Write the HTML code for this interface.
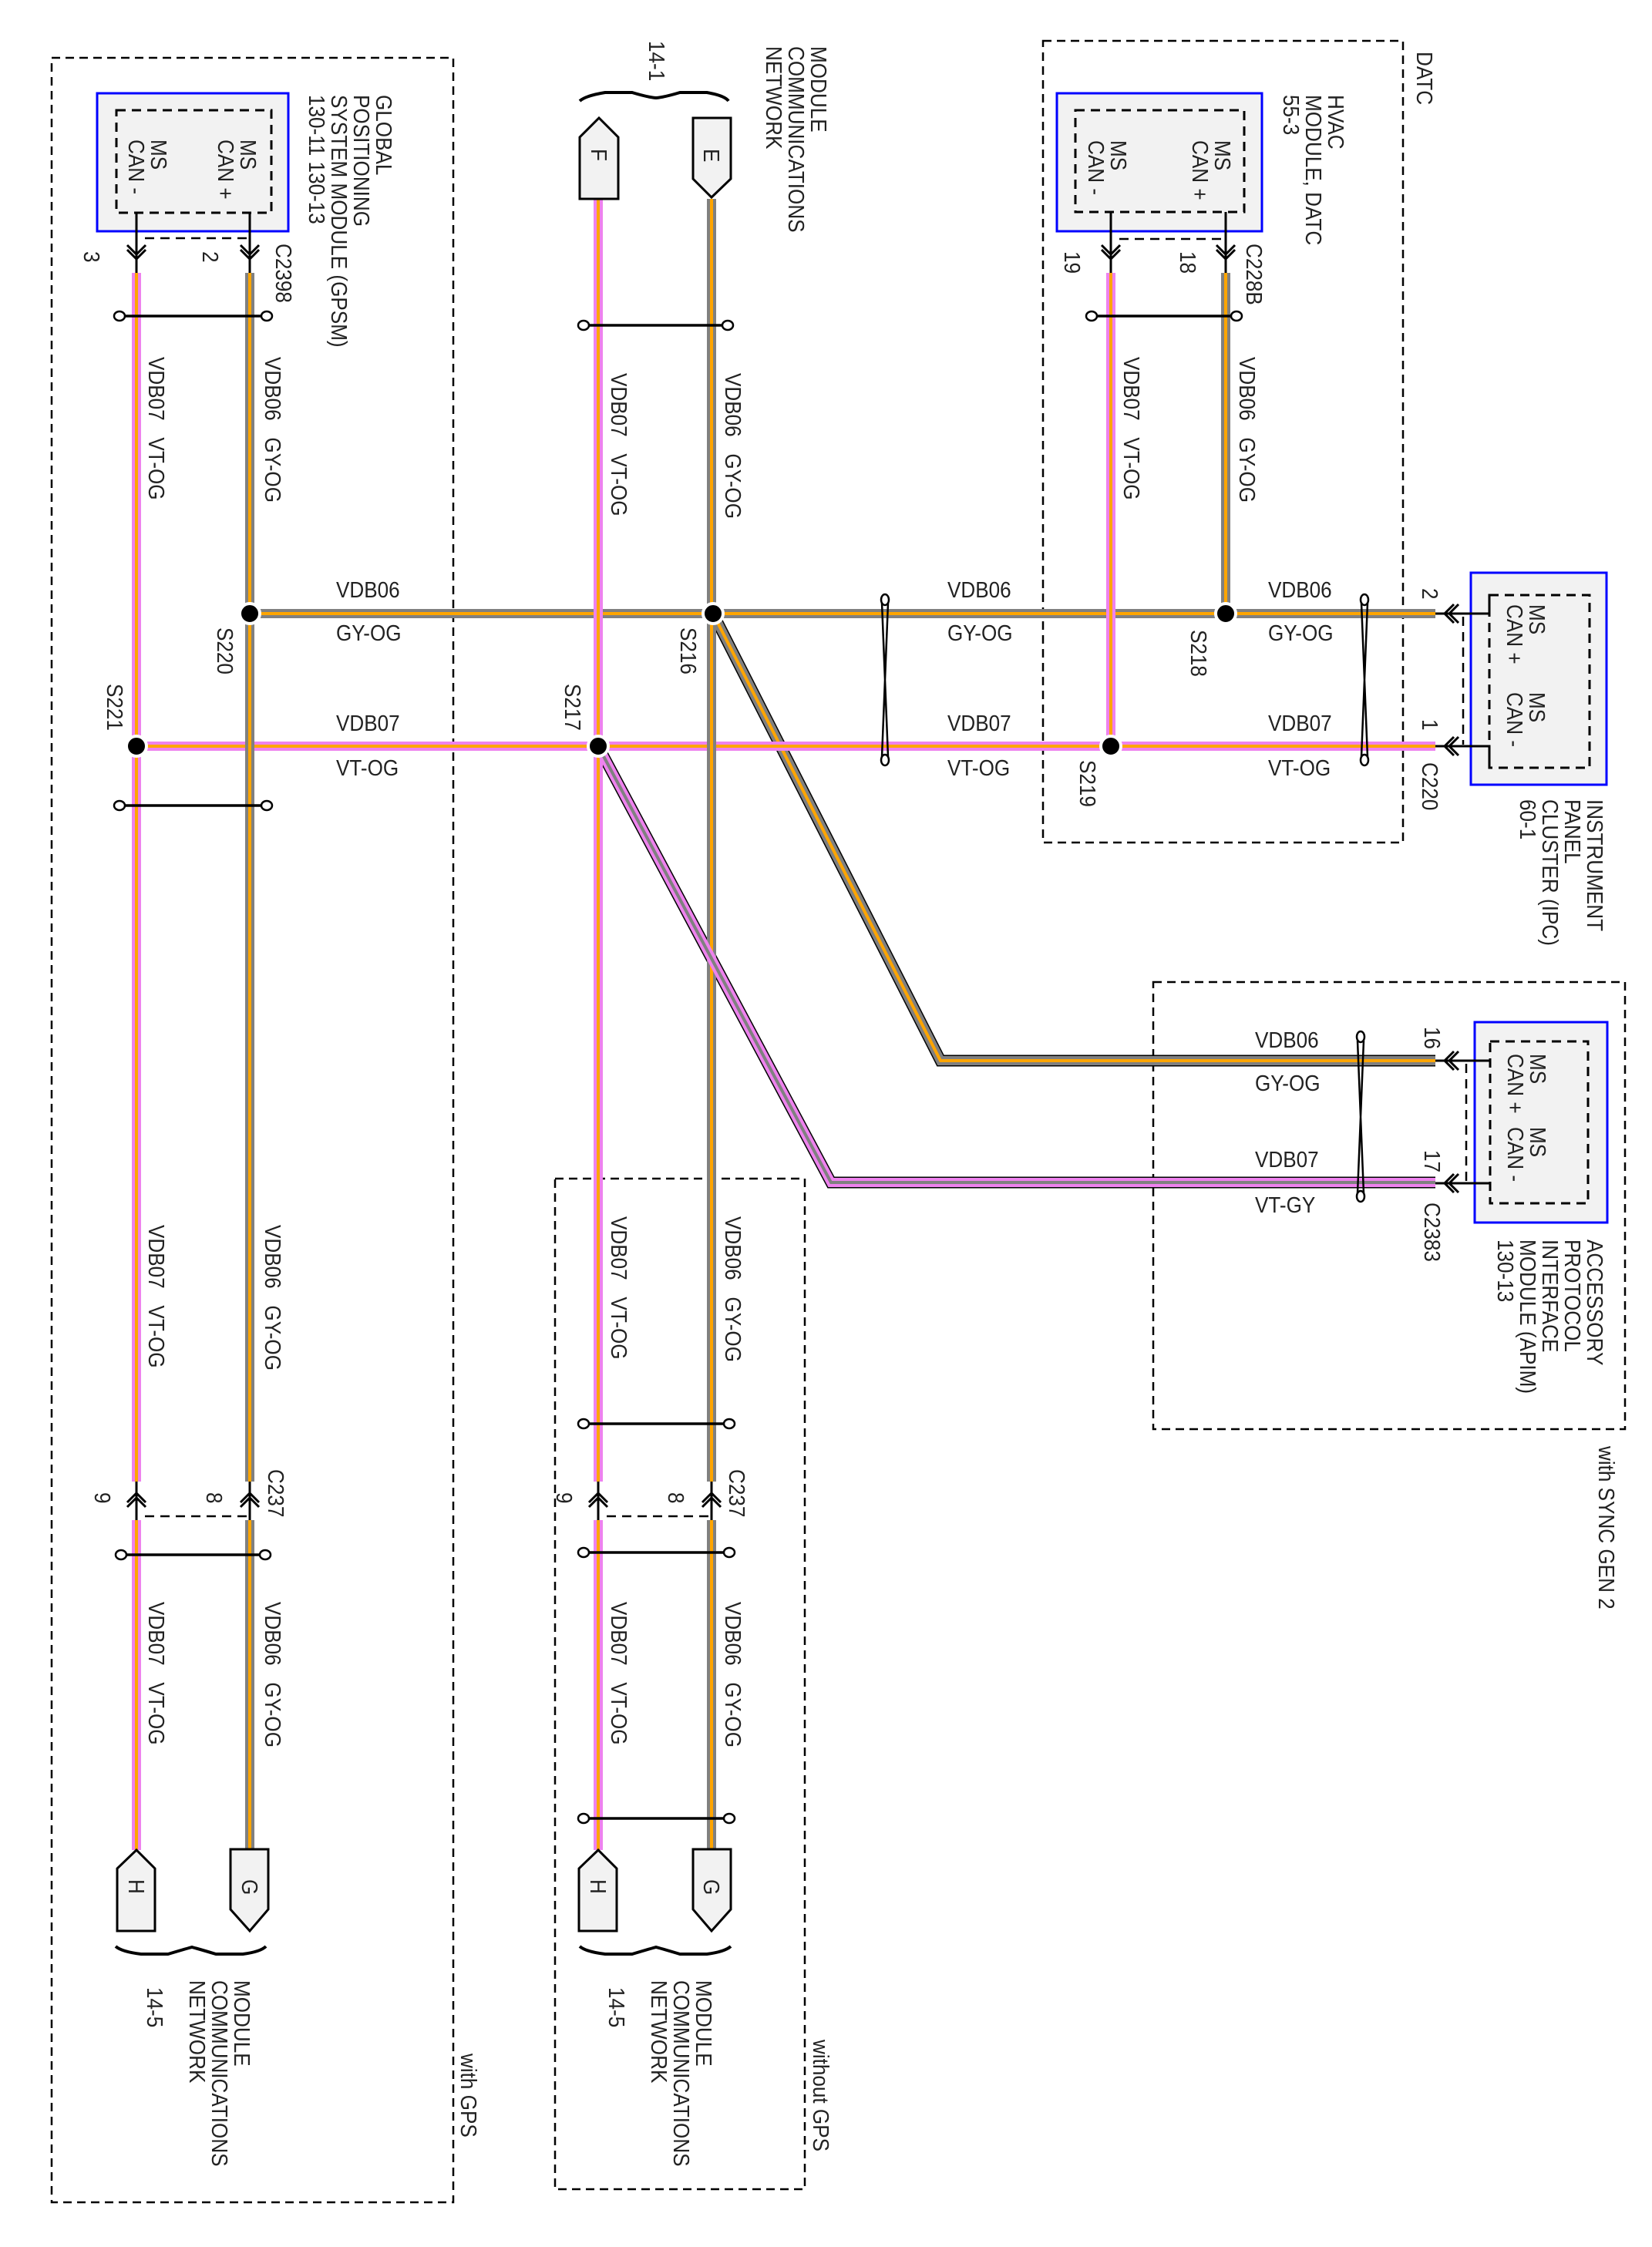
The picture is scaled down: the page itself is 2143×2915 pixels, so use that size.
<!DOCTYPE html>
<html><head><meta charset="utf-8"><style>
html,body{margin:0;padding:0;background:#fff;}
svg{display:block;}
text{font-family:"Liberation Sans",sans-serif;font-size:29px;fill:#222;}
</style></head><body>
<svg width="2143" height="2915" viewBox="0 0 2143 2915" xmlns="http://www.w3.org/2000/svg">
<defs>
<style>
.db{fill:none;stroke:#000;stroke-width:2.5;stroke-dasharray:11 7;}
.box{fill:#f2f2f2;stroke:#0000ff;stroke-width:3;}
.ib{fill:none;stroke:#000;stroke-width:3;stroke-dasharray:12 8;}
.g1{fill:none;stroke:#808080;stroke-width:12;}
.v1{fill:none;stroke:#ee82ee;stroke-width:12;}
.o{fill:none;stroke:#ffa500;stroke-width:4;}
.gs{fill:none;stroke:#808080;stroke-width:4;}
.bk{fill:none;stroke:#000;stroke-width:15;}
.pin{fill:none;stroke:#000;stroke-width:3;}
.tw{fill:none;stroke:#000;stroke-width:3.5;}
.te{fill:#fff;stroke:#000;stroke-width:2.5;}
.con{fill:#f2f2f2;stroke:#000;stroke-width:3;}
.sp{fill:#000;stroke:#fff;stroke-width:4;}
</style>
</defs>

<!-- dashed regions -->
<rect class="db" x="67" y="75" width="521" height="2782"/>
<rect class="db" x="720" y="1529" width="324" height="1311"/>
<rect class="db" x="1353" y="53" width="467" height="1040"/>
<rect class="db" x="1496" y="1274" width="612" height="580"/>

<!-- module boxes -->
<rect class="box" x="126" y="121" width="248" height="179"/>
<rect class="ib" x="151" y="143" width="201" height="133"/>
<rect class="box" x="1371" y="121" width="266" height="179"/>
<rect class="ib" x="1395" y="143" width="219" height="132"/>
<rect class="box" x="1908" y="743" width="176" height="275"/>
<rect class="ib" x="1932" y="772" width="130" height="224"/>
<rect class="box" x="1913" y="1326" width="172" height="260"/>
<rect class="ib" x="1933" y="1351" width="127" height="210"/>

<!-- pin stubs and connector dashes -->
<path class="pin" d="M177 276V354 M324 276V354 M1441 275V354 M1590 275V354"/>
<path class="ib" style="stroke-width:2.5" d="M188 309H324 M1452 310H1587"/>
<path class="pin" d="M165 318L177 330L189 318 M165 324L177 336L189 324 M312 318L324 330L336 318 M312 324L324 336L336 324 M1429 318L1441 330L1453 318 M1429 324L1441 336L1453 324 M1578 318L1590 330L1602 318 M1578 324L1590 336L1602 324"/>
<!-- IPC / APIM pins -->
<path class="pin" d="M1862 796H1932V772 M1862 968H1932V995 M1862 1376H1933 M1862 1535H1933"/>
<path class="pin" d="M1892 784L1880 796L1892 808 M1886 784L1874 796L1886 808 M1892 956L1880 968L1892 980 M1886 956L1874 968L1886 980 M1892 1364L1880 1376L1892 1388 M1886 1364L1874 1376L1886 1388 M1892 1523L1880 1535L1892 1547 M1886 1523L1874 1535L1886 1547"/>
<path class="ib" style="stroke-width:2.5" d="M1898 800V966 M1902 1380V1532"/>
<!-- C237 pins -->
<path class="pin" d="M177 1922V1972 M324 1922V1972 M776 1922V1972 M923 1922V1972"/>
<path class="pin" d="M165 1955L177 1943L189 1955 M165 1949L177 1937L189 1949 M312 1955L324 1943L336 1955 M312 1949L324 1937L336 1949 M764 1955L776 1943L788 1955 M764 1949L776 1937L788 1949 M911 1955L923 1943L935 1955 M911 1949L923 1937L935 1949"/>
<path class="ib" style="stroke-width:2.5" d="M188 1967H324 M787 1967H923"/>

<!-- black edges on APIM wires -->
<path class="bk" d="M925 796L1220 1376H1862"/>
<path class="bk" d="M776 968L1078 1534H1862"/>

<!-- gray/orange wires -->
<path class="g1" d="M324 354V1922 M324 1972V2400 M324 796H1862 M923 258V1922 M923 1972V2400 M1590 354V796 M925 796L1220 1376H1862"/>
<path class="o" d="M324 354V1922 M324 1972V2400 M324 796H1862 M923 258V1922 M923 1972V2400 M1590 354V796 M925 796L1220 1376H1862"/>
<!-- violet/orange -->
<path class="v1" d="M177 354V1922 M177 1972V2400 M177 968H1862 M776 258V1922 M776 1972V2400 M1441 354V968"/>
<path class="o" d="M177 354V1922 M177 1972V2400 M177 968H1862 M776 258V1922 M776 1972V2400 M1441 354V968"/>
<!-- redraw gray crossing verticals over VDB07 horizontal where gray on top -->
<path class="g1" d="M324 955V981 M923 955V981"/>
<path class="o" d="M324 955V981 M923 955V981"/>
<!-- violet/gray -->
<path class="v1" d="M776 968L1078 1534H1862"/>
<path class="gs" d="M776 968L1078 1534H1862"/>

<!-- splices -->
<circle class="sp" cx="324" cy="796" r="13"/>
<circle class="sp" cx="177" cy="968" r="13"/>
<circle class="sp" cx="925" cy="796" r="13"/>
<circle class="sp" cx="776" cy="968" r="13"/>
<circle class="sp" cx="1590" cy="796" r="13"/>
<circle class="sp" cx="1441" cy="968" r="13"/>

<!-- twists horizontal -->
<g>
<path class="tw" d="M157 410H344 M760 422H940 M157 1045H344 M1420 410H1597 M160 2017H340 M760 1847H942 M760 2014H942 M760 2359H942"/>
<ellipse class="te" cx="155" cy="410" rx="7" ry="6"/><ellipse class="te" cx="346" cy="410" rx="7" ry="6"/>
<ellipse class="te" cx="757" cy="422" rx="7" ry="6"/><ellipse class="te" cx="944" cy="422" rx="7" ry="6"/>
<ellipse class="te" cx="155" cy="1045" rx="7" ry="6"/><ellipse class="te" cx="346" cy="1045" rx="7" ry="6"/>
<ellipse class="te" cx="1416" cy="410" rx="7" ry="6"/><ellipse class="te" cx="1604" cy="410" rx="7" ry="6"/>
<ellipse class="te" cx="157" cy="2017" rx="7" ry="6"/><ellipse class="te" cx="344" cy="2017" rx="7" ry="6"/>
<ellipse class="te" cx="757" cy="1847" rx="7" ry="6"/><ellipse class="te" cx="946" cy="1847" rx="7" ry="6"/>
<ellipse class="te" cx="757" cy="2014" rx="7" ry="6"/><ellipse class="te" cx="946" cy="2014" rx="7" ry="6"/>
<ellipse class="te" cx="757" cy="2359" rx="7" ry="6"/><ellipse class="te" cx="946" cy="2359" rx="7" ry="6"/>
<!-- vertical twists -->
<path class="tw" style="stroke-width:2.5" d="M1144 782L1152 982 M1152 782L1144 982 M1766 782L1774 982 M1774 782L1766 982 M1761 1350L1769 1548 M1769 1350L1761 1548"/>
<ellipse class="te" cx="1148" cy="778" rx="5" ry="7"/><ellipse class="te" cx="1148" cy="986" rx="5" ry="7"/>
<ellipse class="te" cx="1770" cy="778" rx="5" ry="7"/><ellipse class="te" cx="1770" cy="986" rx="5" ry="7"/>
<ellipse class="te" cx="1765" cy="1345" rx="5" ry="7"/><ellipse class="te" cx="1765" cy="1552" rx="5" ry="7"/>
</g>

<!-- connectors -->
<path class="con" d="M752 258V178L777 153L802 178V258Z"/>
<path class="con" d="M899 153H948V232L923 256L899 232Z"/>
<path class="con" d="M152 2505V2424L177 2400L201 2424V2505Z"/>
<path class="con" d="M299 2399H348V2477L324 2505L299 2477Z"/>
<path class="con" d="M751 2505V2424L776 2400L800 2424V2505Z"/>
<path class="con" d="M899 2399H948V2477L923 2505L899 2477Z"/>

<!-- braces -->
<path fill="none" stroke="#000" stroke-width="4" d="M752 131Q760 124 785 120H820Q840 126 851 127 Q862 126 882 120H917Q940 124 945 131"/>
<path fill="none" stroke="#000" stroke-width="4" d="M150 2525Q158 2532 183 2535H218Q238 2529 249 2526 Q260 2529 280 2535H315Q338 2532 345 2525"/>
<path fill="none" stroke="#000" stroke-width="4" d="M752 2525Q760 2532 785 2535H820Q840 2529 851 2526 Q862 2529 882 2535H917Q940 2532 948 2525"/>

<!-- rotated labels (baseline x = top - 21) -->
<g>
<!-- GPSM -->
<text transform="translate(488,123) rotate(90) scale(0.9,1)"><tspan x="0" y="0">GLOBAL</tspan><tspan x="0" y="29">POSITIONING</tspan><tspan x="0" y="58">SYSTEM MODULE (GPSM)</tspan><tspan x="0" y="87">130-11 130-13</tspan></text>
<text transform="translate(312,181) rotate(90) scale(0.9,1)"><tspan x="0" y="0">MS</tspan><tspan x="0" y="29">CAN +</tspan></text>
<text transform="translate(196,181) rotate(90) scale(0.9,1)"><tspan x="0" y="0">MS</tspan><tspan x="0" y="29">CAN -</tspan></text>
<text transform="translate(358,316) rotate(90) scale(0.9,1)">C2398</text>
<text transform="translate(109,326) rotate(90) scale(0.9,1)">3</text>
<text transform="translate(263,326) rotate(90) scale(0.9,1)">2</text>
<text transform="translate(193,463) rotate(90) scale(0.9,1)" xml:space="preserve">VDB07   VT-OG</text>
<text transform="translate(344,463) rotate(90) scale(0.9,1)" xml:space="preserve">VDB06   GY-OG</text>
<text transform="translate(193,1589) rotate(90) scale(0.9,1)" xml:space="preserve">VDB07   VT-OG</text>
<text transform="translate(344,1589) rotate(90) scale(0.9,1)" xml:space="preserve">VDB06   GY-OG</text>
<text transform="translate(193,2078) rotate(90) scale(0.9,1)" xml:space="preserve">VDB07   VT-OG</text>
<text transform="translate(344,2078) rotate(90) scale(0.9,1)" xml:space="preserve">VDB06   GY-OG</text>
<text transform="translate(282,814) rotate(90) scale(0.9,1)">S220</text>
<text transform="translate(139,887) rotate(90) scale(0.9,1)">S221</text>
<text transform="translate(348,1906) rotate(90) scale(0.9,1)">C237</text>
<text transform="translate(123,1936) rotate(90) scale(0.9,1)">9</text>
<text transform="translate(268,1936) rotate(90) scale(0.9,1)">8</text>
<text transform="translate(167,2438) rotate(90) scale(0.9,1)">H</text>
<text transform="translate(314,2438) rotate(90) scale(0.9,1)">G</text>
<text transform="translate(304,2569) rotate(90) scale(0.9,1)"><tspan x="0" y="0">MODULE</tspan><tspan x="0" y="29">COMMUNICATIONS</tspan><tspan x="0" y="58">NETWORK</tspan></text>
<text transform="translate(191,2578) rotate(90) scale(0.9,1)">14-5</text>
<text transform="translate(598,2664) rotate(90) scale(0.9,1)">with GPS</text>

<!-- middle column -->
<text transform="translate(1052,60) rotate(90) scale(0.9,1)"><tspan x="0" y="0">MODULE</tspan><tspan x="0" y="29">COMMUNICATIONS</tspan><tspan x="0" y="58">NETWORK</tspan></text>
<text transform="translate(842,53) rotate(90) scale(0.9,1)">14-1</text>
<text transform="translate(767,193) rotate(90) scale(0.9,1)">F</text>
<text transform="translate(913,193) rotate(90) scale(0.9,1)">E</text>
<text transform="translate(793,484) rotate(90) scale(0.9,1)" xml:space="preserve">VDB07   VT-OG</text>
<text transform="translate(941,484) rotate(90) scale(0.9,1)" xml:space="preserve">VDB06   GY-OG</text>
<text transform="translate(883,814) rotate(90) scale(0.9,1)">S216</text>
<text transform="translate(733,887) rotate(90) scale(0.9,1)">S217</text>
<text transform="translate(793,1578) rotate(90) scale(0.9,1)" xml:space="preserve">VDB07   VT-OG</text>
<text transform="translate(941,1578) rotate(90) scale(0.9,1)" xml:space="preserve">VDB06   GY-OG</text>
<text transform="translate(793,2078) rotate(90) scale(0.9,1)" xml:space="preserve">VDB07   VT-OG</text>
<text transform="translate(941,2078) rotate(90) scale(0.9,1)" xml:space="preserve">VDB06   GY-OG</text>
<text transform="translate(946,1906) rotate(90) scale(0.9,1)">C237</text>
<text transform="translate(722,1936) rotate(90) scale(0.9,1)">9</text>
<text transform="translate(867,1936) rotate(90) scale(0.9,1)">8</text>
<text transform="translate(766,2438) rotate(90) scale(0.9,1)">H</text>
<text transform="translate(913,2438) rotate(90) scale(0.9,1)">G</text>
<text transform="translate(903,2569) rotate(90) scale(0.9,1)"><tspan x="0" y="0">MODULE</tspan><tspan x="0" y="29">COMMUNICATIONS</tspan><tspan x="0" y="58">NETWORK</tspan></text>
<text transform="translate(790,2578) rotate(90) scale(0.9,1)">14-5</text>
<text transform="translate(1055,2646) rotate(90) scale(0.9,1)">without GPS</text>

<!-- HVAC -->
<text transform="translate(1838,67) rotate(90) scale(0.9,1)">DATC</text>
<text transform="translate(1723,123) rotate(90) scale(0.9,1)"><tspan x="0" y="0">HVAC</tspan><tspan x="0" y="29">MODULE, DATC</tspan><tspan x="0" y="58">55-3</tspan></text>
<text transform="translate(1576,182) rotate(90) scale(0.9,1)"><tspan x="0" y="0">MS</tspan><tspan x="0" y="29">CAN +</tspan></text>
<text transform="translate(1441,182) rotate(90) scale(0.9,1)"><tspan x="0" y="0">MS</tspan><tspan x="0" y="29">CAN -</tspan></text>
<text transform="translate(1617,316) rotate(90) scale(0.9,1)">C228B</text>
<text transform="translate(1381,326) rotate(90) scale(0.9,1)">19</text>
<text transform="translate(1531,326) rotate(90) scale(0.9,1)">18</text>
<text transform="translate(1458,463) rotate(90) scale(0.9,1)" xml:space="preserve">VDB07   VT-OG</text>
<text transform="translate(1608,463) rotate(90) scale(0.9,1)" xml:space="preserve">VDB06   GY-OG</text>
<text transform="translate(1545,817) rotate(90) scale(0.9,1)">S218</text>
<text transform="translate(1401,986) rotate(90) scale(0.9,1)">S219</text>

<!-- IPC -->
<text transform="translate(1845,763) rotate(90) scale(0.9,1)">2</text>
<text transform="translate(1845,933) rotate(90) scale(0.9,1)">1</text>
<text transform="translate(1845,989) rotate(90) scale(0.9,1)">C220</text>
<text transform="translate(1984,784) rotate(90) scale(0.9,1)"><tspan x="0" y="0">MS</tspan><tspan x="0" y="29">CAN +</tspan></text>
<text transform="translate(1984,898) rotate(90) scale(0.9,1)"><tspan x="0" y="0">MS</tspan><tspan x="0" y="29">CAN -</tspan></text>
<text transform="translate(2059,1037) rotate(90) scale(0.9,1)"><tspan x="0" y="0">INSTRUMENT</tspan><tspan x="0" y="29">PANEL</tspan><tspan x="0" y="58">CLUSTER (IPC)</tspan><tspan x="0" y="87">60-1</tspan></text>

<!-- APIM -->
<text transform="translate(1848,1332) rotate(90) scale(0.9,1)">16</text>
<text transform="translate(1848,1492) rotate(90) scale(0.9,1)">17</text>
<text transform="translate(1848,1560) rotate(90) scale(0.9,1)">C2383</text>
<text transform="translate(1985,1367) rotate(90) scale(0.9,1)"><tspan x="0" y="0">MS</tspan><tspan x="0" y="29">CAN +</tspan></text>
<text transform="translate(1985,1462) rotate(90) scale(0.9,1)"><tspan x="0" y="0">MS</tspan><tspan x="0" y="29">CAN -</tspan></text>
<text transform="translate(2059,1608) rotate(90) scale(0.9,1)"><tspan x="0" y="0">ACCESSORY</tspan><tspan x="0" y="29">PROTOCOL</tspan><tspan x="0" y="58">INTERFACE</tspan><tspan x="0" y="87">MODULE (APIM)</tspan><tspan x="0" y="116">130-13</tspan></text>
<text transform="translate(2074,1876) rotate(90) scale(0.9,1)">with SYNC GEN 2</text>
</g>

<!-- horizontal labels -->
<g transform="scale(1,1)">
<text x="436" y="775" transform="translate(43.6,0) scale(0.9,1)">VDB06</text>
<text x="436" y="831" transform="translate(43.6,0) scale(0.9,1)">GY-OG</text>
<text x="436" y="948" transform="translate(43.6,0) scale(0.9,1)">VDB07</text>
<text x="436" y="1006" transform="translate(43.6,0) scale(0.9,1)">VT-OG</text>
<text x="1229" y="775" transform="translate(122.9,0) scale(0.9,1)">VDB06</text>
<text x="1229" y="831" transform="translate(122.9,0) scale(0.9,1)">GY-OG</text>
<text x="1229" y="948" transform="translate(122.9,0) scale(0.9,1)">VDB07</text>
<text x="1229" y="1006" transform="translate(122.9,0) scale(0.9,1)">VT-OG</text>
<text x="1645" y="775" transform="translate(164.5,0) scale(0.9,1)">VDB06</text>
<text x="1645" y="831" transform="translate(164.5,0) scale(0.9,1)">GY-OG</text>
<text x="1645" y="948" transform="translate(164.5,0) scale(0.9,1)">VDB07</text>
<text x="1645" y="1006" transform="translate(164.5,0) scale(0.9,1)">VT-OG</text>
<text x="1628" y="1359" transform="translate(162.8,0) scale(0.9,1)">VDB06</text>
<text x="1628" y="1415" transform="translate(162.8,0) scale(0.9,1)">GY-OG</text>
<text x="1628" y="1514" transform="translate(162.8,0) scale(0.9,1)">VDB07</text>
<text x="1628" y="1573" transform="translate(162.8,0) scale(0.9,1)">VT-GY</text>
</g>
</svg>
</body></html>
